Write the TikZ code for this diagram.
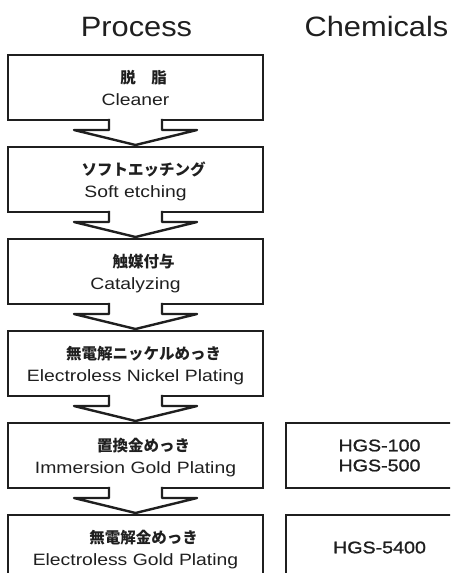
\documentclass[tikz,border=0pt]{standalone}
\usepackage{fontspec}
\setmainfont{Liberation Sans}[FakeStretch=1.18]
\newfontfamily\head{Liberation Sans}[FakeStretch=1.1]
\newfontfamily\chem{Liberation Sans}[FakeStretch=1.17,FakeBold=1.2]
\newfontfamily\jp{Noto Sans CJK JP}
\begin{document}
\begin{tikzpicture}[x=1pt,y=-1pt,line width=2.4pt,color=black!88,
  stepbox/.style={draw,rectangle,outer sep=0pt,inner sep=0pt,minimum width=255.5pt,minimum height=65pt,
    align=center,font=\fontsize{16.4}{22}\selectfont,text height=40pt,text depth=4pt},
  chembox/.style={draw,rectangle,outer sep=0pt,inner sep=0pt,minimum width=187pt,minimum height=65pt,
    align=center,font=\chem\fontsize{16.8}{20}\selectfont}]
\useasboundingbox (0,0) rectangle (450,573);
\clip (0,0) rectangle (450,573);
\node[anchor=base] (process) at (136.5,36) {\head\fontsize{28}{30}\selectfont Process};
\node[anchor=base] (chemicals) at (376.5,36) {\head\fontsize{28}{30}\selectfont Chemicals};
\foreach \i/\jtext/\etext in {1/脱　脂/Cleaner,2/ソフトエッチング/Soft etching,3/触媒付与/Catalyzing,
    4/無電解ニッケルめっき/Electroless Nickel Plating,5/置換金めっき/Immersion Gold Plating,
    6/無電解金めっき/Electroless Gold Plating}
  \node[stepbox] (p\i) at (135.5,{55+92*(\i-1)+32.5}) {{\jp\bfseries\fontsize{15.5}{22}\selectfont\kern8pt\jtext\kern-8pt}\\\etext};
\foreach \i [evaluate=\i as \j using int(\i+1)] in {1,...,5}
  \filldraw[fill=white,line join=round] ([xshift=-26.5pt,yshift=1.2pt]p\i.south) -- ++(0,11.2) -- ++(-35,0)
    -- ([yshift=2pt]p\j.north) -- ++(61.5,-15) -- ++(-35,0) -- ++(0,-11.2);
\node[chembox] (c5) at (379.5,0 |- p5) {HGS-100\\HGS-500};
\node[chembox] (c6) at (379.5,0 |- p6) {HGS-5400};
\end{tikzpicture}
\end{document}
